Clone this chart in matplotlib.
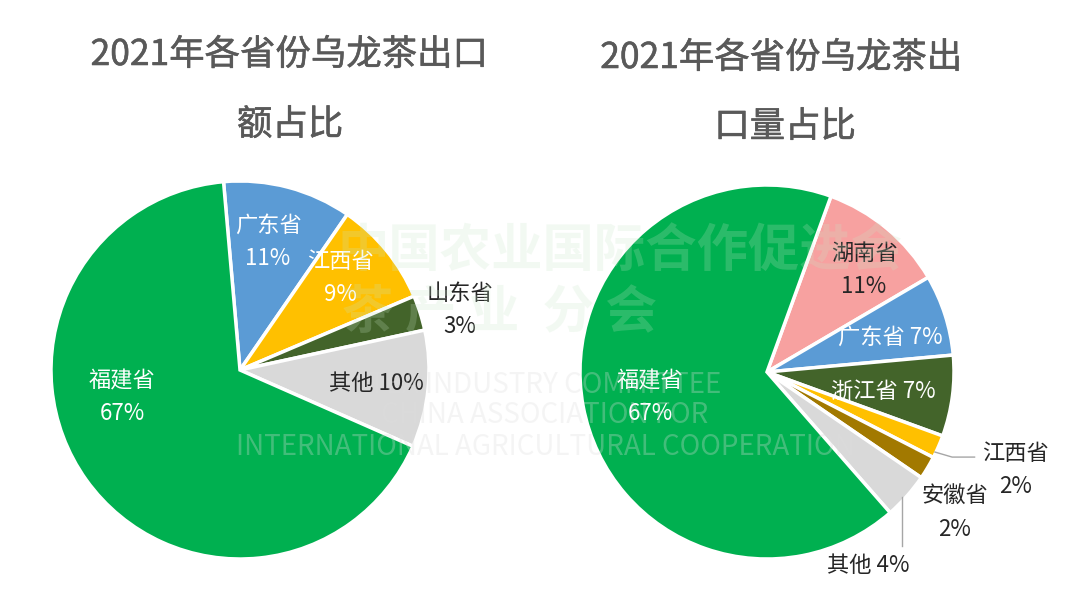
import matplotlib
matplotlib.use("Agg")
import matplotlib.pyplot as plt
import matplotlib.patheffects as pe

plt.rcParams['font.family'] = ['Noto Sans CJK SC', 'DejaVu Sans']

# left pie: export value share (clockwise from top)
left_names = ['广东省', '江西省', '山东省', '其他', '福建省']
left_values = [11, 9, 3, 10, 67]
left_labels = ['广东省\n11%', '江西省\n9%', '山东省\n3%', '其他 10%', '福建省\n67%']

# right pie: export volume share
right_names = ['湖南省', '广东省', '浙江省', '江西省', '安徽省', '其他', '福建省']
right_values = [11, 7, 7, 2, 2, 4, 67]
right_labels = ['湖南省\n11%', '广东省 7%', '浙江省 7%', '江西省\n2%', '安徽省\n2%', '其他 4%', '福建省\n67%']

C_GREEN = '#00b050'
C_BLUE = '#5b9bd5'
C_YELLOW = '#ffc000'
C_DKGREEN = '#43642a'
C_GRAY = '#d9d9d9'
C_PINK = '#f7a1a0'
C_BROWN = '#a27900'

left_colors = [C_BLUE, C_YELLOW, C_DKGREEN, C_GRAY, C_GREEN]
right_colors = [C_PINK, C_BLUE, C_DKGREEN, C_YELLOW, C_BROWN, C_GRAY, C_GREEN]

W, H = 1080, 598
fig = plt.figure(figsize=(W / 100, H / 100), dpi=100)
fig.patch.set_facecolor('white')

LIM = 1.5


def pie_axes(cx, cy, r):
    size = 2 * LIM * r
    ax = fig.add_axes([(cx - size / 2) / W, (H - cy - size / 2) / H, size / W, size / H])
    return ax


def fix_axes(ax):
    ax.set_xlim(-LIM, LIM)
    ax.set_ylim(-LIM, LIM)
    ax.set_aspect('equal')
    ax.axis('off')


# left chart
ax1 = pie_axes(240, 370, 189)
ax1.pie(left_values, colors=left_colors, startangle=95, counterclock=False,
        wedgeprops=dict(edgecolor='white', linewidth=2.5))
fix_axes(ax1)
left_pos = [(0.148, 0.677), (0.529, 0.487), (1.164, 0.317), (0.72, -0.069), (-0.624, -0.143)]
left_tc = ['white', 'white', '#262626', '#262626', 'white']
for (x, y), t, c in zip(left_pos, left_labels, left_tc):
    ax1.text(x, y, t, ha='center', va='center', fontsize=16, color=c, linespacing=1.55)

# right chart
ax2 = pie_axes(767, 372, 187)
ax2.pie(right_values, colors=right_colors, startangle=70, counterclock=False,
        wedgeprops=dict(edgecolor='white', linewidth=2.5))
fix_axes(ax2)
right_pos = [(0.519, 0.545), (0.658, 0.187), (0.620, -0.102), (1.33, -0.524),
             (1.005, -0.754), (0.540, -1.037), (-0.626, -0.134)]
right_tc = ['#262626', 'white', 'white', '#262626', '#262626', '#262626', 'white']
for (x, y), t, c in zip(right_pos, right_labels, right_tc):
    ax2.text(x, y, t, ha='center', va='center', fontsize=16, color=c, linespacing=1.55)

# leader lines
ax2.plot([0.898, 0.99, 1.11], [-0.428, -0.455, -0.455], color='#a6a6a6', lw=1, clip_on=False)
ax2.plot([0.722, 0.722], [-0.67, -0.93], color='#a6a6a6', lw=1, clip_on=False)

# titles (regular weight, thickened a little with a stroke)
thick = [pe.withStroke(linewidth=0.4, foreground='#595959')]
tkw = dict(ha='center', va='center', fontsize=25.5, color='#595959', path_effects=thick)
fig.text(289 / W, 1 - 55 / H, '2021年各省份乌龙茶出口', **tkw)
fig.text(290 / W, 1 - 125 / H, '额占比', **tkw)
fig.text(781 / W, 1 - 58 / H, '2021年各省份乌龙茶出', **tkw)
fig.text(785 / W, 1 - 127 / H, '口量占比', **tkw)

# faint watermark
wm = dict(ha='center', va='center', color='#c8e6c8', alpha=0.22, zorder=10)
fig.text(620 / W, 1 - 250 / H, '中国农业国际合作促进会', fontsize=37, fontweight='bold', **wm)
fig.text(500 / W, 1 - 312 / H, '茶 产 业  分 会', fontsize=37, fontweight='bold', **wm)
wm2 = dict(ha='center', va='center', color='#dddddd', alpha=0.3, zorder=10, fontsize=20)
fig.text(545 / W, 1 - 385 / H, 'TEA INDUSTRY COMMITTEE', **wm2)
fig.text(545 / W, 1 - 415 / H, 'CHINA ASSOCIATION FOR', **wm2)
fig.text(545 / W, 1 - 447 / H, 'INTERNATIONAL AGRICULTURAL COOPERATION', **wm2)

fig.savefig('out.png', dpi=100)
